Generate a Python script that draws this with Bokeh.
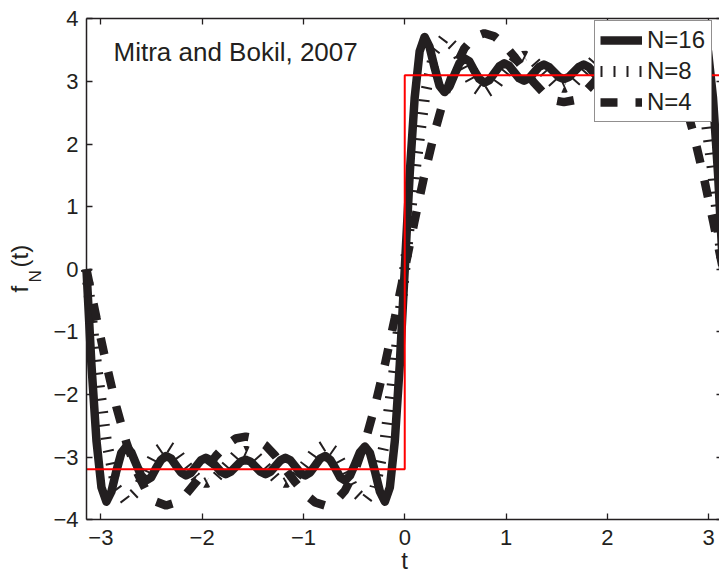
from bokeh.plotting import figure
from bokeh.models import Range1d, LinearAxis, FixedTicker, Label, Legend, LegendItem
from bokeh.embed import file_html
from bokeh.resources import INLINE

# ---------------- data ----------------
t_fine = [-3.142, -3.093, -3.043, -2.994, -2.945, -2.896, -2.847, -2.798, -2.749, -2.700,
          -2.651, -2.602, -2.553, -2.503, -2.454, -2.405, -2.356, -2.307, -2.258, -2.209,
          -2.160, -2.111, -2.062, -2.013, -1.963, -1.914, -1.865, -1.816, -1.767, -1.718,
          -1.669, -1.620, -1.571, -1.522, -1.473, -1.424, -1.374, -1.325, -1.276, -1.227,
          -1.178, -1.129, -1.080, -1.031, -0.982, -0.933, -0.884, -0.834, -0.785, -0.736,
          -0.687, -0.638, -0.589, -0.540, -0.491, -0.442, -0.393, -0.344, -0.295, -0.245,
          -0.196, -0.147, -0.098, -0.049, 0.000, 0.049, 0.098, 0.147, 0.196, 0.245,
          0.295, 0.344, 0.393, 0.442, 0.491, 0.540, 0.589, 0.638, 0.687, 0.736,
          0.785, 0.834, 0.884, 0.933, 0.982, 1.031, 1.080, 1.129, 1.178, 1.227,
          1.276, 1.325, 1.374, 1.424, 1.473, 1.522, 1.571, 1.620, 1.669, 1.718,
          1.767, 1.816, 1.865, 1.914, 1.963, 2.013, 2.062, 2.111, 2.160, 2.209,
          2.258, 2.307, 2.356, 2.405, 2.454, 2.503, 2.553, 2.602, 2.651, 2.700,
          2.749, 2.798, 2.847, 2.896, 2.945, 2.994, 3.043, 3.093, 3.142]

f_N16 = [0.00, -1.52, -2.74, -3.48, -3.71, -3.55, -3.22, -2.93, -2.83, -2.92,
         -3.11, -3.29, -3.37, -3.32, -3.17, -3.04, -2.98, -3.02, -3.13, -3.24,
         -3.29, -3.25, -3.15, -3.05, -3.01, -3.05, -3.14, -3.23, -3.27, -3.23,
         -3.15, -3.07, -3.04, -3.07, -3.15, -3.23, -3.27, -3.23, -3.14, -3.05,
         -3.01, -3.05, -3.15, -3.25, -3.29, -3.24, -3.13, -3.02, -2.98, -3.04,
         -3.17, -3.32, -3.37, -3.29, -3.11, -2.92, -2.83, -2.93, -3.22, -3.55,
         -3.71, -3.48, -2.74, -1.52, 0.00, 1.52, 2.74, 3.48, 3.71, 3.55,
         3.22, 2.93, 2.83, 2.92, 3.11, 3.29, 3.37, 3.32, 3.17, 3.04,
         2.98, 3.02, 3.13, 3.24, 3.29, 3.25, 3.15, 3.05, 3.01, 3.05,
         3.14, 3.23, 3.27, 3.23, 3.15, 3.07, 3.04, 3.07, 3.15, 3.23,
         3.27, 3.23, 3.14, 3.05, 3.01, 3.05, 3.15, 3.25, 3.29, 3.24,
         3.13, 3.02, 2.98, 3.04, 3.17, 3.32, 3.37, 3.29, 3.11, 2.92,
         2.83, 2.93, 3.22, 3.55, 3.71, 3.48, 2.74, 1.52, 0.00]

t_coarse = [-3.142, -3.043, -2.945, -2.847, -2.749, -2.651, -2.553, -2.454, -2.356, -2.258,
            -2.160, -2.062, -1.963, -1.865, -1.767, -1.669, -1.571, -1.473, -1.374, -1.276,
            -1.178, -1.080, -0.982, -0.884, -0.785, -0.687, -0.589, -0.491, -0.393, -0.295,
            -0.196, -0.098, 0.000, 0.098, 0.196, 0.295, 0.393, 0.491, 0.589, 0.687,
            0.785, 0.884, 0.982, 1.080, 1.178, 1.276, 1.374, 1.473, 1.571, 1.669,
            1.767, 1.865, 1.963, 2.062, 2.160, 2.258, 2.356, 2.454, 2.553, 2.651,
            2.749, 2.847, 2.945, 3.043, 3.142]

f_N8 = [0.00, -1.52, -2.75, -3.49, -3.70, -3.55, -3.21, -2.91, -2.80, -2.90,
        -3.12, -3.32, -3.41, -3.33, -3.15, -2.97, -2.90, -2.97, -3.15, -3.33,
        -3.41, -3.32, -3.12, -2.90, -2.80, -2.91, -3.21, -3.55, -3.70, -3.49,
        -2.75, -1.52, 0.00, 1.52, 2.75, 3.49, 3.70, 3.55, 3.21, 2.91,
        2.80, 2.90, 3.12, 3.32, 3.41, 3.33, 3.15, 2.97, 2.90, 2.97,
        3.15, 3.33, 3.41, 3.32, 3.12, 2.90, 2.80, 2.91, 3.21, 3.55,
        3.70, 3.49, 2.75, 1.52, 0.00]

f_N4 = [0.00, -0.78, -1.52, -2.19, -2.76, -3.21, -3.53, -3.71, -3.77, -3.72,
        -3.59, -3.40, -3.19, -2.98, -2.81, -2.70, -2.67, -2.70, -2.81, -2.98,
        -3.19, -3.40, -3.59, -3.72, -3.77, -3.71, -3.53, -3.21, -2.76, -2.19,
        -1.52, -0.78, 0.00, 0.78, 1.52, 2.19, 2.76, 3.21, 3.53, 3.71,
        3.77, 3.72, 3.59, 3.40, 3.19, 2.98, 2.81, 2.70, 2.67, 2.70,
        2.81, 2.98, 3.19, 3.40, 3.59, 3.72, 3.77, 3.71, 3.53, 3.21,
        2.76, 2.19, 1.52, 0.78, 0.00]

step_t = [-3.1416, 0.0, 0.0, 3.1416]
step_f = [-3.19, -3.19, 3.10, 3.10]

series_names = ["N=16", "N=8", "N=4"]
x_limits = [-3.1416, 3.1416]
y_limits = [-4, 4]
x_ticks = [-3, -2, -1, 0, 1, 2, 3]
x_tick_labels = ["\u22123", "\u22122", "\u22121", "0", "1", "2", "3"]
y_ticks = [-4, -3, -2, -1, 0, 1, 2, 3, 4]
y_tick_labels = ["\u22124", "\u22123", "\u22122", "\u22121", "0", "1", "2", "3", "4"]
annotation_text = "Mitra and Bokil, 2007"
x_label = "t"

# ---------------- layout (pixels) ----------------
W, H = 719, 573
BOX_LEFT, BOX_TOP, BOX_BOTTOM = 86.0, 18.3, 519.4
PX_X = 101.3                               # pixels per unit of t
PX_Y = (BOX_BOTTOM - BOX_TOP) / (y_limits[1] - y_limits[0])
x0 = x_limits[0] - BOX_LEFT / PX_X
x1 = x0 + W / PX_X
y1 = y_limits[1] + BOX_TOP / PX_Y
y0 = y1 - H / PX_Y

FONT = "Liberation Sans"
INK = "#231f20"

p = figure(width=W, height=H, output_backend="svg", toolbar_location=None,
           x_range=Range1d(x0, x1), y_range=Range1d(y0, y1),
           x_axis_location=None, y_axis_location=None,
           min_border=0, min_border_left=0, min_border_right=0,
           min_border_top=0, min_border_bottom=0,
           background_fill_color="white", border_fill_color="white")
p.outline_line_color = None
p.xgrid.visible = False
p.ygrid.visible = False


def labelled_axis(ticks, labels, loc, bounds, standoff):
    ax = LinearAxis(fixed_location=loc, bounds=tuple(bounds),
                    ticker=FixedTicker(ticks=ticks),
                    major_label_overrides={k: v for k, v in zip(ticks, labels)})
    ax.major_tick_in = 6
    ax.major_tick_out = 0
    ax.minor_tick_line_color = None
    ax.axis_line_width = 1.5
    ax.axis_line_color = INK
    ax.major_tick_line_color = INK
    ax.major_tick_line_width = 1.3
    ax.major_label_text_font = FONT
    ax.major_label_text_color = INK
    ax.major_label_text_font_size = "22px"
    ax.major_label_standoff = standoff
    return ax


def mirror_axis(ticks, loc, bounds, show_line=True):
    # tick marks only (drawn as minor ticks, so no labels exist at all)
    ax = LinearAxis(fixed_location=loc, bounds=tuple(bounds),
                    ticker=FixedTicker(ticks=[], minor_ticks=ticks))
    ax.minor_tick_in = 6
    ax.minor_tick_out = 0
    ax.minor_tick_line_color = INK
    ax.minor_tick_line_width = 1.3
    ax.major_tick_line_color = None
    ax.axis_line_width = 1.5
    ax.axis_line_color = INK if show_line else None
    return ax


p.add_layout(labelled_axis(x_ticks, x_tick_labels, y_limits[0], x_limits, 10), "below")
p.add_layout(labelled_axis(y_ticks, y_tick_labels, x_limits[0], y_limits, 8), "left")
p.add_layout(mirror_axis(x_ticks, y_limits[1], x_limits), "above")
p.add_layout(mirror_axis(y_ticks, x_limits[1], y_limits, show_line=False), "right")

r16 = p.line(t_fine, f_N16, line_width=8.5, line_color=INK, line_join="round")
r8 = p.line(t_coarse, f_N8, line_width=11, line_color=INK, line_dash="2 11")
r4 = p.line(t_coarse, f_N4, line_width=8.5, line_color=INK, line_dash="17 18")
p.line(step_t, step_f, line_width=2, line_color="#ff0000")

legend = Legend(items=[LegendItem(label=series_names[0], renderers=[r16]),
                       LegendItem(label=series_names[1], renderers=[r8]),
                       LegendItem(label=series_names[2], renderers=[r4])],
                location=(594, H - 121.7), margin=0, padding=5, spacing=3,
                glyph_width=42, glyph_height=26, label_height=26, label_width=59,
                label_standoff=5,
                label_text_font=FONT, label_text_font_size="24px", label_text_color=INK,
                border_line_color=INK, border_line_width=1.5,
                background_fill_color="white", background_fill_alpha=1.0)
p.add_layout(legend)

def label(text, cx, cy, size, align="left", angle=0.0):
    return Label(x=cx, y=H - cy, x_units="screen", y_units="screen", text=text,
                 angle=angle, text_font=FONT, text_font_size=size, text_color=INK,
                 text_align=align, text_baseline="alphabetic")

# positions: page pixels, corrected for Bokeh's baseline offset
p.add_layout(label(annotation_text, 113, 51, "26px"))
p.add_layout(label(x_label, 404, 560, "24px", align="center"))
ang = 1.5708
p.add_layout(label("f", 19, 292, "24px", angle=ang))
p.add_layout(label("N", 35, 282, "17px", angle=ang))
p.add_layout(label("(t)", 19, 267, "24px", angle=ang))

open("out.html", "w").write(file_html(p, INLINE))
